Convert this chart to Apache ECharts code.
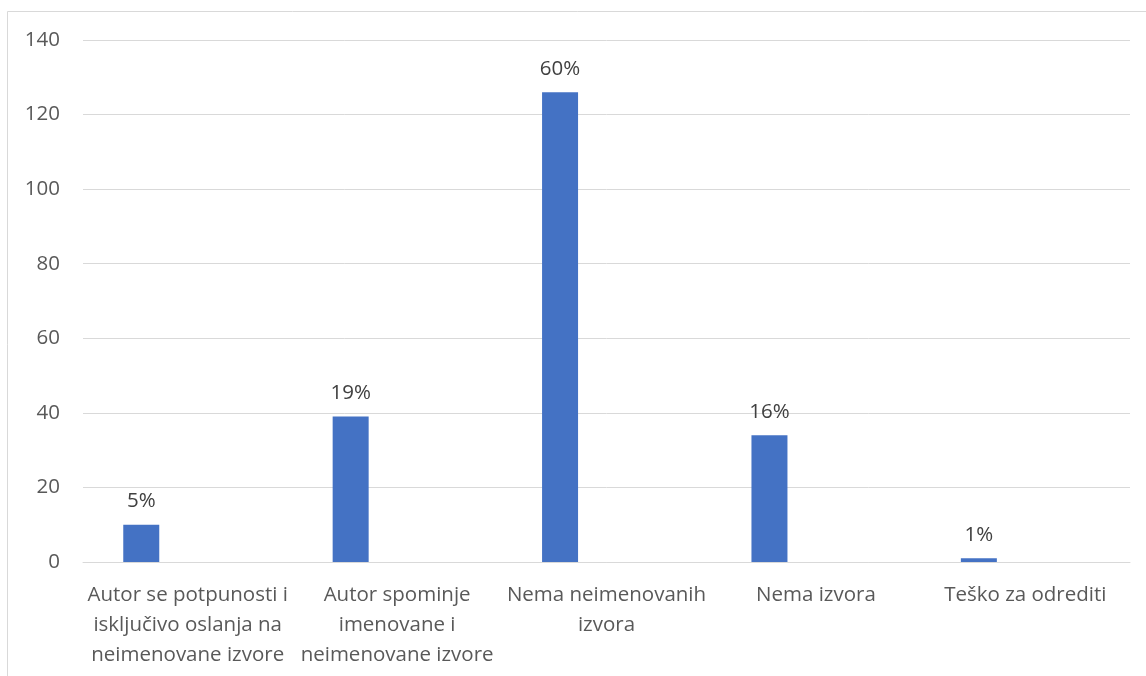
<!DOCTYPE html>
<html>
<head>
<meta charset="utf-8">
<script src="https://cdn.jsdelivr.net/npm/echarts@6/dist/echarts.min.js"></script>
<style>
html,body{margin:0;padding:0;background:#fff;}
#chart{width:1146px;height:676px;}
</style>
</head>
<body>
<div id="chart"></div>
<script>
var categories = [
  "Autor se potpunosti i\nisključivo oslanja na\nneimenovane izvore",
  "Autor spominje\nimenovane i\nneimenovane izvore",
  "Nema neimenovanih\nizvora",
  "Nema izvora",
  "Teško za odrediti"
];
var values = [10, 39, 126, 34, 1];
var percentLabels = ["5%", "19%", "60%", "16%", "1%"];
var yTicks = [0, 20, 40, 60, 80, 100, 120, 140];

var FONT = "Open Sans";
var chart = echarts.init(document.getElementById('chart'));
chart.setOption({
  animation: false,
  backgroundColor: '#ffffff',
  graphic: [{
    type: 'rect',
    shape: { x: 7.5, y: 11.5, width: 1200, height: 800 },
    style: { fill: 'none', stroke: '#d9d9d9', lineWidth: 1 },
    silent: true
  }],
  grid: { left: 83, right: 16, top: 40, bottom: 114, containLabel: false },
  xAxis: {
    type: 'category',
    data: categories,
    axisLine: { show: true, lineStyle: { color: '#d9d9d9', width: 1 } },
    axisTick: { show: false },
    axisLabel: {
      color: '#595959', fontFamily: FONT, fontSize: 20.5, lineHeight: 30,
      margin: 18, interval: 0
    }
  },
  yAxis: {
    type: 'value',
    min: yTicks[0], max: yTicks[yTicks.length - 1], interval: 20,
    axisLine: { show: false },
    axisTick: { show: false },
    splitLine: { lineStyle: { color: '#d9d9d9', width: 1 } },
    axisLabel: { color: '#595959', fontFamily: FONT, fontSize: 20.5, margin: 23 }
  },
  series: [
    {
      type: 'bar',
      data: values,
      barWidth: 36,
      barGap: '158%',
      itemStyle: { color: '#4472c4' },
      label: {
        show: true, position: 'top', distance: 13,
        color: '#404040', fontFamily: FONT, fontSize: 20.5,
        formatter: function (p) { return percentLabels[p.dataIndex]; }
      }
    },
    {
      type: 'bar',
      data: values.map(function () { return null; }),
      barWidth: 36,
      itemStyle: { color: 'transparent' }
    }
  ]
});
</script>
</body>
</html>
